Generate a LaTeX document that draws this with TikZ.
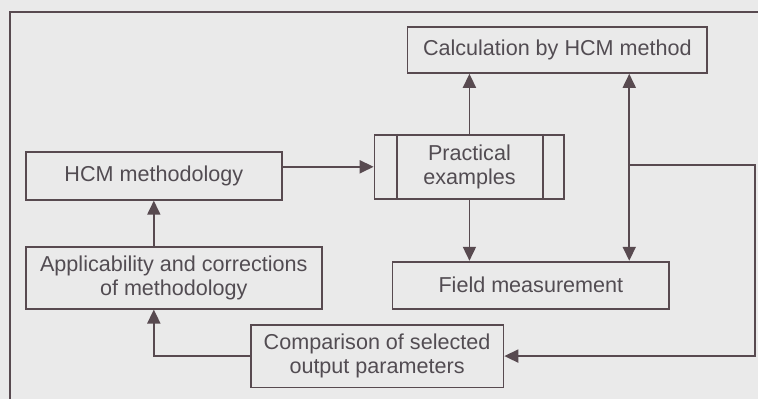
\documentclass[tikz,border=0pt]{standalone}
\usepackage{fontspec}
\setmainfont{Liberation Sans}
\usepackage{xcolor}
\usetikzlibrary{arrows.meta}
\definecolor{inkline}{RGB}{88,74,80}
\definecolor{inktext}{RGB}{82,76,82}
\definecolor{paper}{RGB}{234,234,234}

\begin{document}
\begin{tikzpicture}[x=0.5pt,y=-0.5pt,
    font=\fontsize{10.8}{12.2}\selectfont,
    >={Triangle[length=7pt,width=6.5pt]},
    box/.style={draw=inkline, fill=paper, text=inktext, align=center,
      inner sep=0pt, line width=0.9pt},
    link/.style={draw=inkline, ->, line width=0.9pt}]
  % paper and page frame
  \fill[paper] (0,0) rectangle (759,399);
  \draw[inkline, line width=0.9pt] (10,399) -- (10,12) -- (759,12);
  % boxes
  \node[box, minimum width=150pt, minimum height=23pt] (calc) at (558,50) {Calculation by HCM method};
  \node[box, minimum width=128pt, minimum height=24pt] (hcm) at (154,176) {HCM methodology};
  \node[box, minimum width=95pt, minimum height=32pt] (prac) at (470,167) {Practical\\examples};
  \node[box, minimum width=148pt, minimum height=31pt] (app) at (174,278) {Applicability and corrections\\of methodology};
  \node[box, minimum width=138.5pt, minimum height=23.5pt] (field) at (531.5,285.5) {Field measurement};
  \node[box, minimum width=126.5pt, minimum height=31.5pt] (comp) at (377.5,356.5) {Comparison of selected\\output parameters};
  % side bars of the practical box
  \draw[inkline, line width=0.9pt] ([xshift=11.5pt]prac.north west) -- ([xshift=11.5pt]prac.south west);
  \draw[inkline, line width=0.9pt] ([xshift=-11pt]prac.north east) -- ([xshift=-11pt]prac.south east);
  % connectors
  \coordinate (split) at (630,165);
  \coordinate (edge) at (756,165);
  \draw[link] (hcm.east |- prac.west) -- (prac.west);
  \draw[link] (prac.north) -- (calc.south -| prac.north);
  \draw[link] (prac.south) -- (field.north -| prac.south);
  \draw[link] (split) -- (calc.south -| split);
  \draw[link] (split) -- (field.north -| split);
  \draw[link] (split) -- (edge) |- (comp.east);
  \draw[link] (comp.west) -| (app.south -| hcm.south);
  \draw[link] (app.north -| hcm.south) -- (hcm.south);
\end{tikzpicture}
\end{document}
